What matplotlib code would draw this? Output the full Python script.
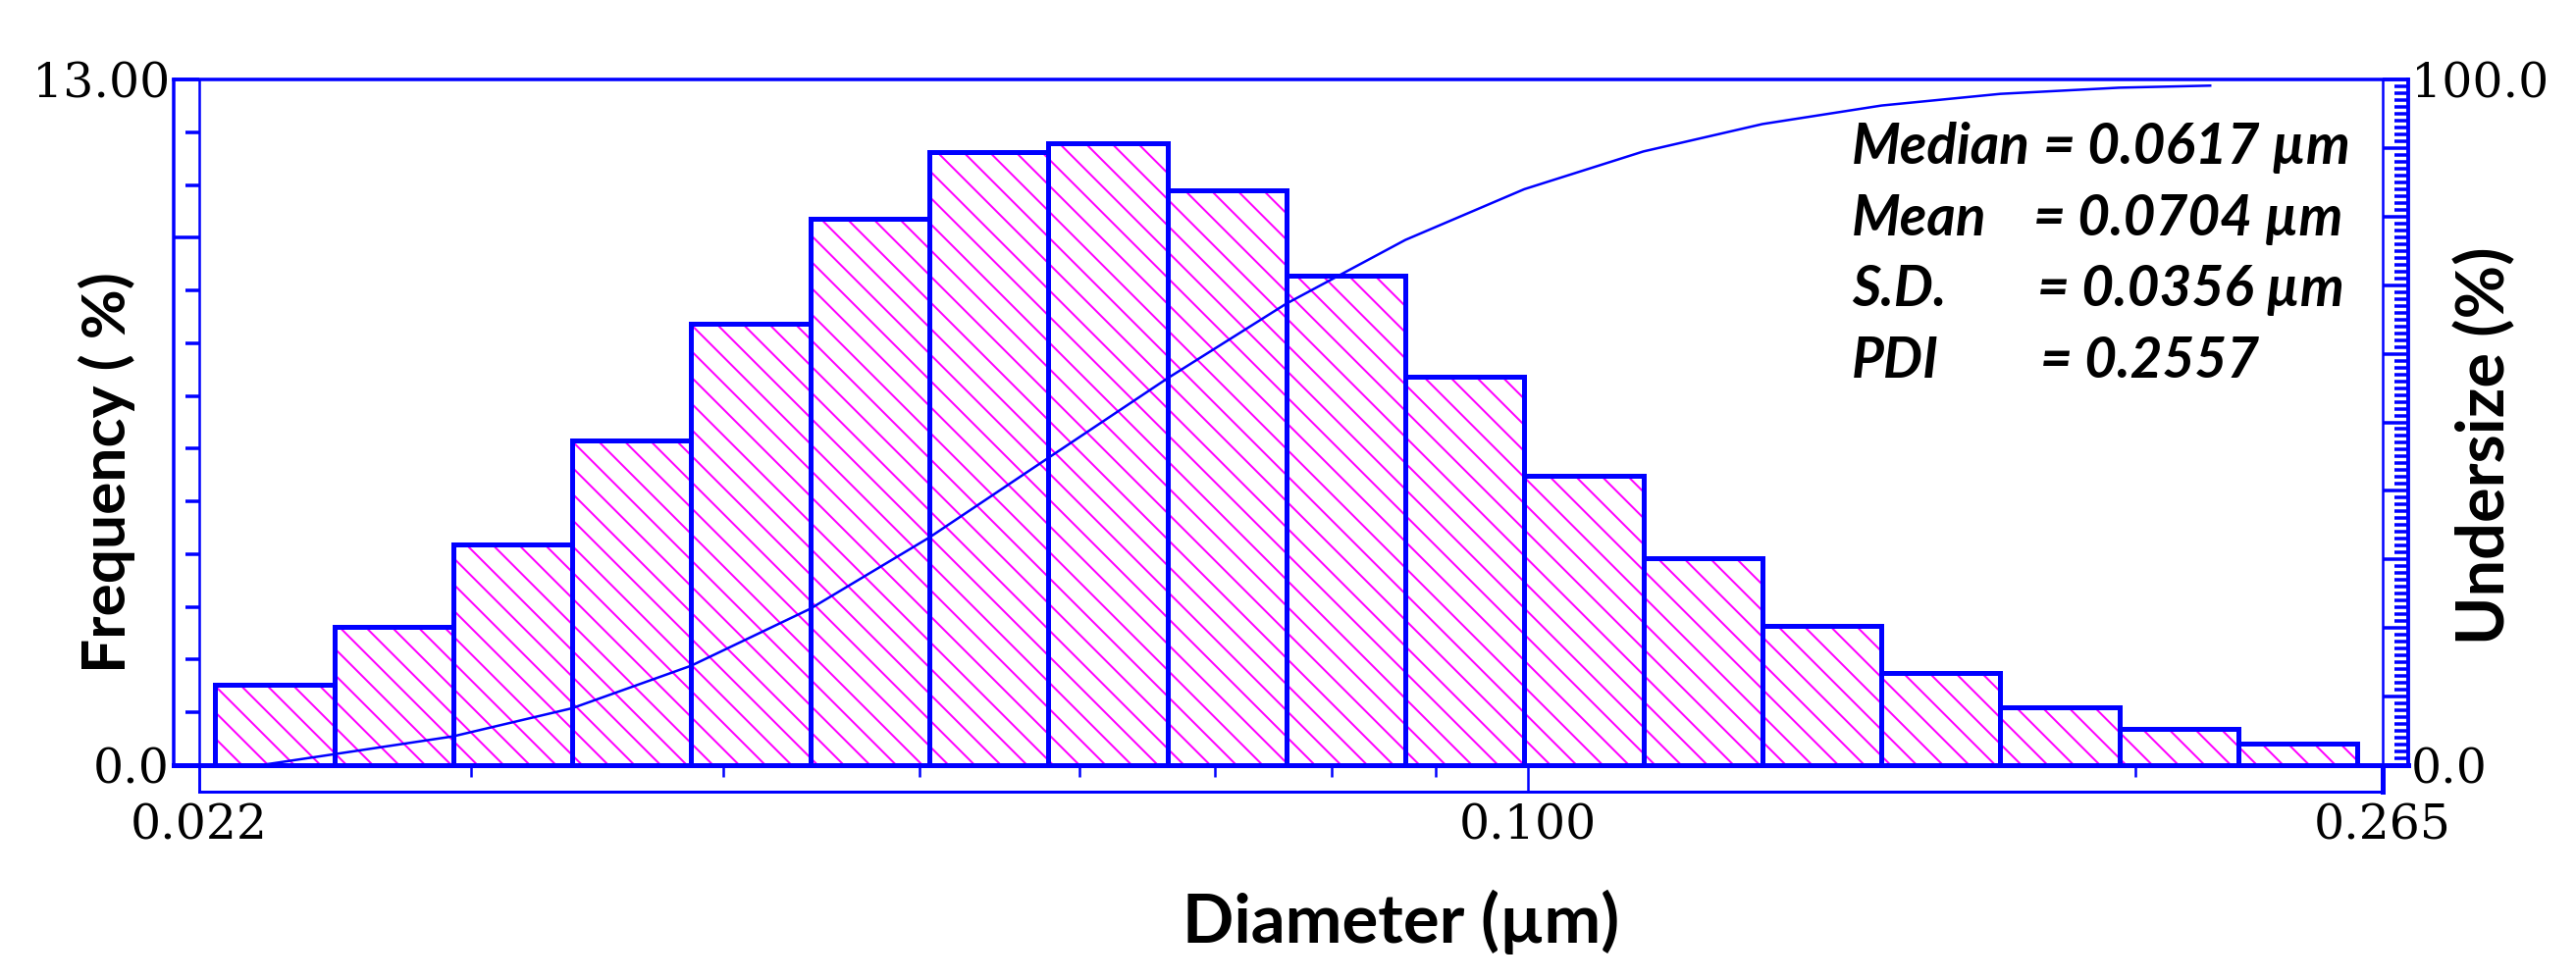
"""
Particle size distribution: frequency histogram (log diameter) + cumulative undersize curve.
"""

import matplotlib
matplotlib.use("Agg")
import matplotlib.pyplot as plt
from matplotlib.ticker import FixedLocator, MultipleLocator, NullFormatter

W, H, DPI = 2625, 999, 160
BLUE = "#0000ff"
MAGENTA = "#ff00ff"
SANS = ["Lato", "DejaVu Sans"]
SERIF = ["DejaVu Serif"]

# histogram bins (um) and frequency (%)
bin_edges_um = [0.02240, 0.02566, 0.02938, 0.03365, 0.03854, 0.04414, 0.05056,
                0.05790, 0.06632, 0.07595, 0.08699, 0.09962, 0.1141, 0.1307,
                0.1497, 0.1714, 0.1963, 0.2248, 0.2575]
freq_pct = [1.53, 2.62, 4.18, 6.15, 8.36, 10.36, 11.62, 11.80, 10.90, 9.28,
            7.36, 5.49, 3.93, 2.65, 1.75, 1.09, 0.69, 0.40]

# cumulative undersize curve
undersize_um = [0.0236, 0.02566, 0.02938, 0.03365, 0.03854, 0.04414, 0.05056,
                0.05790, 0.06632, 0.07595, 0.08699, 0.09962, 0.1141, 0.1307,
                0.1497, 0.1714, 0.1963, 0.2177]
undersize_pct = [0.0, 1.6, 4.2, 8.3, 14.5, 22.8, 33.2, 44.8, 56.4, 67.3,
                 76.6, 84.0, 89.5, 93.5, 96.2, 97.9, 98.8, 99.1]

x_major = [0.022, 0.1, 0.265]
x_major_labels = ["0.022", "0.100", "0.265"]
x_minor = [0.03, 0.04, 0.05, 0.06, 0.07, 0.08, 0.09, 0.2]

stats_names = ["Median", "Mean", "S.D.", "PDI"]
stats_values = ["= 0.0617 \u00b5m", "= 0.0704 \u00b5m", "= 0.0356 \u00b5m", "= 0.2557"]


def fx(px):
    return px / W


def fy(py):
    return 1 - py / H


def px2pt(px):
    return px * 72 / DPI


plt.rcParams["hatch.linewidth"] = 0.9

fig = plt.figure(figsize=(W / DPI, H / DPI), dpi=DPI)

# outer frame (includes the two y-axis tick strips)
frame = fig.add_axes([fx(177), fy(780), fx(2454) - fx(177), fy(81) - fy(780)])
frame.set_xticks([])
frame.set_yticks([])
for side, lw in [("left", 3.5), ("right", 3.5), ("top", 3.5), ("bottom", 5)]:
    frame.spines[side].set_color(BLUE)
    frame.spines[side].set_linewidth(px2pt(lw))

# x-axis tick strip below the plot
strip = fig.add_axes([fx(203), fy(807), fx(2428) - fx(203), fy(780) - fy(807)])
strip.set_xticks([])
strip.set_yticks([])
strip.patch.set_alpha(0)
for side, lw in [("left", 2.5), ("right", 5), ("top", 0), ("bottom", 3)]:
    strip.spines[side].set_color(BLUE)
    strip.spines[side].set_linewidth(px2pt(lw))

ax = fig.add_axes([fx(203), fy(780), fx(2428) - fx(203), fy(81) - fy(780)])
ax.patch.set_alpha(0)
ax.set_xscale("log")
ax.set_xlim(0.022, 0.265)
ax.set_ylim(0, 13)

lefts = bin_edges_um[:-1]
widths = [b - a for a, b in zip(bin_edges_um[:-1], bin_edges_um[1:])]
# hatch layer, then the blue outlines on top
ax.bar(lefts, freq_pct, width=widths, align="edge", color="white",
       edgecolor=MAGENTA, linewidth=0, hatch="\\\\", zorder=2)
ax.bar(lefts, freq_pct, width=widths, align="edge", fill=False,
       edgecolor=BLUE, linewidth=px2pt(5), zorder=3)

for side, lw in [("left", 2.5), ("right", 2.5), ("bottom", 5)]:
    ax.spines[side].set_color(BLUE)
    ax.spines[side].set_linewidth(px2pt(lw))
ax.spines["top"].set_visible(False)

ax.xaxis.set_major_locator(FixedLocator(x_major))
ax.set_xticklabels(x_major_labels)
ax.xaxis.set_minor_locator(FixedLocator(x_minor))
ax.xaxis.set_minor_formatter(NullFormatter())
ax.tick_params(axis="x", which="major", direction="out", length=px2pt(27),
               width=px2pt(2.5), color=BLUE, pad=px2pt(11), labelsize=22)
ax.tick_params(axis="x", which="minor", direction="out", length=px2pt(12),
               width=px2pt(2.5), color=BLUE)

ax.yaxis.set_major_locator(FixedLocator([0, 10, 13]))
ax.set_yticklabels(["0.0", "", "13.00"])
ax.yaxis.set_minor_locator(MultipleLocator(1))
ax.tick_params(axis="y", which="major", direction="out", length=px2pt(26),
               width=px2pt(3.5), color=BLUE, pad=px2pt(4), labelsize=22)
ax.tick_params(axis="y", which="minor", direction="out", length=px2pt(14),
               width=px2pt(3.5), color=BLUE)

for lab in ax.get_xticklabels() + ax.get_yticklabels():
    lab.set_family(SERIF)

# undersize axis on the right
ax2 = ax.twinx()
ax2.set_ylim(0, 100)
ax2.plot(undersize_um, undersize_pct, color=BLUE, linewidth=px2pt(2.5), zorder=4)
for side in ["left", "top", "bottom"]:
    ax2.spines[side].set_visible(False)
ax2.spines["right"].set_position(("outward", px2pt(26)))
ax2.spines["right"].set_color(BLUE)
ax2.spines["right"].set_linewidth(px2pt(3.5))
ax2.yaxis.set_major_locator(MultipleLocator(10))
ax2.yaxis.set_major_formatter(lambda v, pos: f"{v:.1f}" if v in (0, 100) else "")
ax2.yaxis.set_minor_locator(MultipleLocator(1))
ax2.tick_params(axis="y", which="major", direction="in", length=px2pt(26),
                width=px2pt(3.5), color=BLUE, pad=px2pt(3), labelsize=22)
ax2.tick_params(axis="y", which="minor", direction="in", length=px2pt(14),
                width=px2pt(3.5), color=BLUE)
for lab in ax2.get_yticklabels():
    lab.set_family(SERIF)

# axis titles
fig.text(fx(109), fy(482), "Frequency ( %)", rotation=90, ha="center", va="center",
         fontsize=28, fontweight="bold", family=SANS)
fig.text(fx(2533), fy(454), "Undersize (%)", rotation=90, ha="center", va="center",
         fontsize=30, fontweight="bold", family=SANS)
fig.text(fx(1428), fy(940), "Diameter (\u00b5m)", ha="center", va="center",
         fontsize=31, fontweight="bold", family=SANS)

# summary statistics
baselines = [167, 240, 312, 385]
eq_x = [2082, 2072, 2076, 2079]
for name, val, yb, xe in zip(stats_names, stats_values, baselines, eq_x):
    fig.text(fx(1887), fy(yb), name, ha="left", va="baseline", fontsize=25.5,
             fontweight="bold", fontstyle="italic", family=SANS)
    fig.text(fx(xe), fy(yb), val, ha="left", va="baseline", fontsize=25.5,
             fontweight="bold", fontstyle="italic", family=SANS)

fig.savefig("out.png", dpi=DPI)
print("Saved out.png")
